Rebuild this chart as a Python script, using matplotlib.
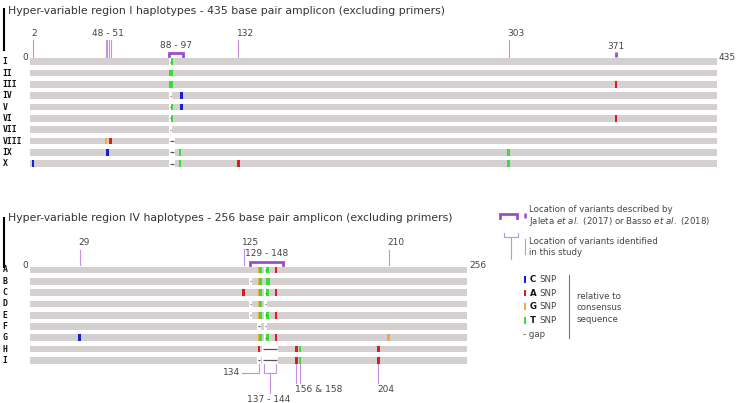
import matplotlib
matplotlib.use("Agg")
import matplotlib.pyplot as plt
from matplotlib.patches import Rectangle

# ---- data ----
TOP_ROWS = ["I", "II", "III", "IV", "V", "VI", "VII", "VIII", "IX", "X"]
TOP_LEN = 435
# (row index, position, base)
TOP_SNPS = [(0, 90, "T"), (1, 89, "T"), (1, 90, "T"), (2, 89, "T"), (2, 90, "T"), (2, 371, "A"),
            (3, 96, "C"), (4, 90, "T"), (4, 96, "C"), (5, 90, "T"), (5, 371, "A"),
            (7, 48, "G"), (7, 51, "A"), (8, 49, "C"), (8, 95, "T"), (8, 303, "T"),
            (9, 2, "C"), (9, 95, "T"), (9, 132, "A"), (9, 303, "T")]
# (row index, first, last)
TOP_GAPS = [(0, 89, 89), (3, 89, 89), (4, 89, 89), (5, 89, 89), (6, 89, 89),
            (7, 89, 91), (8, 89, 91), (9, 89, 91)]
TOP_STUDY_TICKS = [2, 48, 49, 50, 51, 132, 303]
TOP_STUDY_LABELS = [(2, "2"), (132, "132"), (303, "303")]
TOP_GROUP_LABEL = (49.5, "48 - 51")
TOP_LIT_RANGE = (88, 97)
TOP_LIT_TICK = 371

BOT_ROWS = ["A", "B", "C", "D", "E", "F", "G", "H", "I"]
BOT_LEN = 256
BOT_SNPS = [(0, 134, "G"), (0, 135, "T"), (0, 139, "T"), (0, 144, "A"),
            (1, 134, "G"), (1, 135, "T"), (1, 139, "T"), (1, 140, "T"),
            (2, 125, "A"), (2, 134, "G"), (2, 135, "T"), (2, 139, "T"), (2, 144, "A"),
            (3, 134, "G"), (3, 135, "T"),
            (4, 134, "G"), (4, 135, "T"), (4, 139, "T"), (4, 144, "A"),
            (6, 29, "C"), (6, 134, "G"), (6, 135, "T"), (6, 139, "T"), (6, 144, "A"), (6, 210, "G"),
            (7, 134, "A"), (7, 156, "A"), (7, 158, "T"), (7, 204, "A"),
            (8, 156, "A"), (8, 158, "T"), (8, 204, "A")]
BOT_GAPS = [(0, 138, 138), (1, 129, 129), (2, 138, 138), (3, 129, 129), (3, 138, 138),
            (4, 129, 129), (4, 138, 138), (5, 134, 134), (5, 138, 138), (6, 138, 138),
            (7, 137, 144), (8, 134, 134), (8, 137, 144)]
BOT_STUDY_LABELS = [(29, "29"), (125, "125"), (210, "210")]
BOT_LIT_RANGE = (129, 148)

SNP_LEGEND = ["C", "A", "G", "T"]

# ---- style ----
W, H = 740, 403
GREY = "#d4d0d0"
BASE_COL = {"C": "#1c1cd2", "A": "#e0191c", "G": "#f4a93a", "T": "#33e033"}
PUR_THIN = "#c690e2"
PUR_THICK = "#9b4ecf"
TXT = "#444444"
BAR_H = 6.7
SNP_PX = 2.6
FS = 6.5
TFS = 7.8

fig = plt.figure(figsize=(W / 100, H / 100), dpi=100)
canvas = fig.add_axes([0, 0, 1, 1])
canvas.set_xlim(0, W); canvas.set_ylim(H, 0); canvas.axis("off")


def panel(x0, x1, length):
    ax = fig.add_axes([x0 / W, 0, (x1 - x0) / W, 1])
    ax.set_xlim(0, length); ax.set_ylim(H, 0); ax.axis("off")
    return ax


def draw_rows(ax, rows, y0, dy, length, snps, gaps, ppb):
    ys = [y0 + dy * i for i in range(len(rows))]
    for name, y in zip(rows, ys):
        ax.add_patch(Rectangle((0, y - BAR_H / 2), length, BAR_H, color=GREY, lw=0))
        canvas.text(2.5, y, name, family="DejaVu Sans Mono", weight="bold", fontsize=5.9,
                    color="#111111", va="center", ha="left")
    for r, a, b in gaps:
        pad = 0.9 / ppb
        ax.add_patch(Rectangle((a - 0.5 - pad, ys[r] - BAR_H / 2 - 0.3), b - a + 1 + 2 * pad,
                               BAR_H + 0.6, color="white", lw=0))
        ax.plot([a - 0.4, b + 0.4], [ys[r], ys[r]], color="#555555", lw=0.9,
                solid_capstyle="butt")
    sw = SNP_PX / ppb
    for r, p, base in snps:
        ax.add_patch(Rectangle((p - sw / 2, ys[r] - BAR_H / 2), sw, BAR_H,
                               color=BASE_COL[base], lw=0))
    return ys


def bracket(ax, a, b, ytop, ybot, **kw):
    ax.plot([a, a, b, b], [ybot, ytop, ytop, ybot], **kw)


# ---- top panel: HVR I ----
TX0, TX1 = 30, 717
tppb = (TX1 - TX0) / TOP_LEN
axt = panel(TX0, TX1, TOP_LEN)
canvas.text(8, 11, "Hyper-variable region I haplotypes - 435 base pair amplicon (excluding primers)",
            fontsize=TFS, color="#333333", va="center")
canvas.plot([4, 4], [9, 50], color="black", lw=1.5)
canvas.text(25, 57.5, "0", fontsize=FS, color=TXT, ha="center", va="center")
canvas.text(719, 57, str(TOP_LEN), fontsize=FS, color=TXT, ha="left", va="center")
draw_rows(axt, TOP_ROWS, 61.7, 11.33, TOP_LEN, TOP_SNPS, TOP_GAPS, tppb)
for p in TOP_STUDY_TICKS:
    axt.plot([p, p], [40, 56.7], color=PUR_THIN, lw=0.8)
for p, lab in TOP_STUDY_LABELS:
    axt.text(p - 1.5 / tppb, 34, lab, fontsize=FS, color=TXT, ha="left", va="center")
axt.text(TOP_GROUP_LABEL[0], 34, TOP_GROUP_LABEL[1], fontsize=FS, color=TXT, ha="center", va="center")
a, b = TOP_LIT_RANGE
bracket(axt, a, b, 52.8, 56, color=PUR_THICK, lw=2.0, solid_joinstyle="miter")
axt.text((a + b) / 2, 45.7, f"{a} - {b}", fontsize=FS, color=TXT, ha="center", va="center")
axt.plot([TOP_LIT_TICK] * 2, [51.7, 56.7], color=PUR_THICK, lw=2.0, solid_capstyle="butt")
axt.text(TOP_LIT_TICK, 46.7, str(TOP_LIT_TICK), fontsize=FS, color=TXT, ha="center", va="center")

# ---- bottom panel: HVR IV ----
BX0, BX1 = 30, 467.3
bppb = (BX1 - BX0) / BOT_LEN
axb = panel(BX0, BX1, BOT_LEN)
canvas.text(8, 218.3, "Hyper-variable region IV haplotypes - 256 base pair amplicon (excluding primers)",
            fontsize=TFS, color="#333333", va="center")
canvas.plot([4, 4], [218, 267], color="black", lw=1.5)
canvas.text(25, 265, "0", fontsize=FS, color=TXT, ha="center", va="center")
canvas.text(469, 265, str(BOT_LEN), fontsize=FS, color=TXT, ha="left", va="center")
ys = draw_rows(axb, BOT_ROWS, 270, 11.29, BOT_LEN, BOT_SNPS, BOT_GAPS, bppb)
for p, lab in BOT_STUDY_LABELS:
    axb.plot([p, p], [249 if p == 125 else 250, 265], color=PUR_THIN, lw=0.8)
    axb.text(p - 1.5 / bppb, 242.7, lab, fontsize=FS, color=TXT, ha="left", va="center")
a, b = BOT_LIT_RANGE
bracket(axb, a, b, 261.8, 265.3, color=PUR_THICK, lw=2.0, solid_joinstyle="miter")
axb.text((a + b) / 2, 254, f"{a} - {b}", fontsize=FS, color=TXT, ha="center", va="center")

# call-outs under the bottom panel
yb = ys[-1] + BAR_H / 2 + 0.3
axb.plot([134, 134, 124.2], [yb, 372.7, 372.7], color=PUR_THIN, lw=0.8)
axb.text(123.2, 372.7, "134", fontsize=FS, color=TXT, ha="right", va="center")
bracket(axb, 137, 144, 372.7, yb, color=PUR_THIN, lw=0.8)
axb.plot([140.5, 140.5], [372.7, 393], color=PUR_THIN, lw=0.8)
axb.text(139.5, 400, "137 - 144", fontsize=FS, color=TXT, ha="center", va="center")
for p in (156, 158):
    axb.plot([p, p], [yb, 382.7], color=PUR_THIN, lw=0.8)
axb.text(155.3, 389, "156 & 158", fontsize=FS, color=TXT, ha="left", va="center")
axb.plot([204, 204], [yb, 382.7], color=PUR_THIN, lw=0.8)
axb.text(203.5, 389, "204", fontsize=FS, color=TXT, ha="left", va="center")

# ---- legend ----
LFS = 6.2
canvas.plot([500, 500, 516.7, 516.7], [218, 213.6, 213.6, 218], color=PUR_THICK, lw=2.0,
            solid_joinstyle="miter")
canvas.plot([525, 525], [213, 217.5], color=PUR_THICK, lw=1.8, solid_capstyle="butt")
canvas.text(529.3, 210, "Location of variants described by", fontsize=LFS, color=TXT, va="center")
canvas.text(529.3, 221.3, r"Jaleta $\mathit{et\ al.}$ (2017) or Basso $\mathit{et\ al.}$ (2018)",
            fontsize=LFS, color=TXT, va="center")
canvas.plot([504.3, 504.3, 517.7, 517.7], [233.3, 237.3, 237.3, 233.3], color=PUR_THIN, lw=0.8)
canvas.plot([511, 511], [237.3, 259.3], color=PUR_THIN, lw=0.8)
canvas.plot([525.3, 525.3], [239.3, 254.3], color=PUR_THIN, lw=0.8)
canvas.text(529.3, 241.7, "Location of variants identified", fontsize=LFS, color=TXT, va="center")
canvas.text(529.3, 252.4, "in this study", fontsize=LFS, color=TXT, va="center")

for k, base in enumerate(SNP_LEGEND):
    y = 279.3 + 13.7 * k
    canvas.add_patch(Rectangle((524, y - 3.3), 2, 6.7, color=BASE_COL[base], lw=0))
    canvas.text(530, y, base, fontsize=6.2, weight="bold", color="#111111", va="center")
    canvas.text(539.5, y, "SNP", fontsize=6.2, color=TXT, va="center")
canvas.text(523.3, 334.3, "- gap", fontsize=6.2, color=TXT, va="center")
canvas.plot([568.7, 568.7], [275, 338.3], color="#777777", lw=0.8)
for k, line in enumerate(["relative to", "consensus", "sequence"]):
    canvas.text(576.7, 296.5 + 11.5 * k, line, fontsize=6.2, color=TXT, va="center")

fig.savefig("out.png", dpi=100)
